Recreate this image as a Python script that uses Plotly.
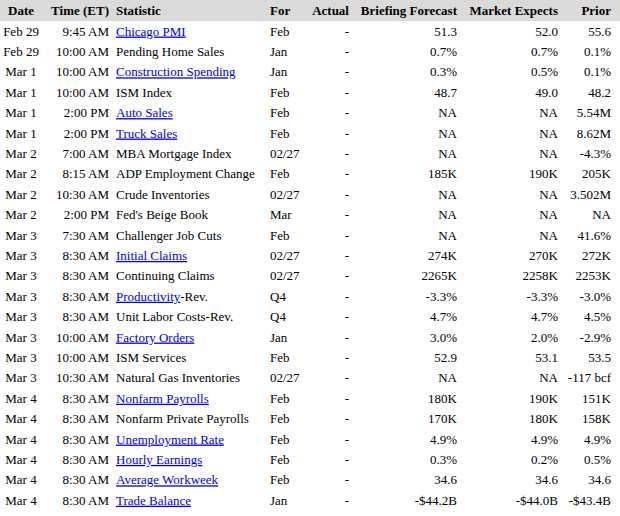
import plotly.graph_objects as go

# ---------- data ----------
dates = ["Feb 29", "Feb 29", "Mar 1", "Mar 1", "Mar 1", "Mar 1", "Mar 2", "Mar 2",
         "Mar 2", "Mar 2", "Mar 3", "Mar 3", "Mar 3", "Mar 3", "Mar 3", "Mar 3",
         "Mar 3", "Mar 3", "Mar 4", "Mar 4", "Mar 4", "Mar 4", "Mar 4", "Mar 4"]
times = ["9:45 AM", "10:00 AM", "10:00 AM", "10:00 AM", "2:00 PM", "2:00 PM", "7:00 AM", "8:15 AM",
         "10:30 AM", "2:00 PM", "7:30 AM", "8:30 AM", "8:30 AM", "8:30 AM", "8:30 AM", "10:00 AM",
         "10:00 AM", "10:30 AM", "8:30 AM", "8:30 AM", "8:30 AM", "8:30 AM", "8:30 AM", "8:30 AM"]
statistics = ["Chicago PMI", "Pending Home Sales", "Construction Spending", "ISM Index",
              "Auto Sales", "Truck Sales", "MBA Mortgage Index", "ADP Employment Change",
              "Crude Inventories", "Fed's Beige Book", "Challenger Job Cuts", "Initial Claims",
              "Continuing Claims", "Productivity", "Unit Labor Costs-Rev.", "Factory Orders",
              "ISM Services", "Natural Gas Inventories", "Nonfarm Payrolls", "Nonfarm Private Payrolls",
              "Unemployment Rate", "Hourly Earnings", "Average Workweek", "Trade Balance"]
stat_suffix = [""] * 13 + ["-Rev."] + [""] * 10
linked = [1, 0, 1, 0, 1, 1, 0, 0, 0, 0, 0, 1, 0, 1, 0, 1, 0, 0, 1, 0, 1, 1, 1, 1]
periods = ["Feb", "Jan", "Jan", "Feb", "Feb", "Feb", "02/27", "Feb",
           "02/27", "Mar", "Feb", "02/27", "02/27", "Q4", "Q4", "Jan",
           "Feb", "02/27", "Feb", "Feb", "Feb", "Feb", "Feb", "Jan"]
actual = ["-"] * 24
briefing = ["51.3", "0.7%", "0.3%", "48.7", "NA", "NA", "NA", "185K",
            "NA", "NA", "NA", "274K", "2265K", "-3.3%", "4.7%", "3.0%",
            "52.9", "NA", "180K", "170K", "4.9%", "0.3%", "34.6", "-$44.2B"]
market = ["52.0", "0.7%", "0.5%", "49.0", "NA", "NA", "NA", "190K",
          "NA", "NA", "NA", "270K", "2258K", "-3.3%", "4.7%", "2.0%",
          "53.1", "NA", "190K", "180K", "4.9%", "0.2%", "34.6", "-$44.0B"]
prior = ["55.6", "0.1%", "0.1%", "48.2", "5.54M", "8.62M", "-4.3%", "205K",
         "3.502M", "NA", "41.6%", "272K", "2253K", "-3.0%", "4.5%", "-2.9%",
         "53.5", "-117 bcf", "151K", "158K", "4.9%", "0.5%", "34.6", "-$43.4B"]
headers = ["Date", "Time (ET)", "Statistic", "For", "Actual",
           "Briefing Forecast", "Market Expects", "Prior"]
# ---------------------------

# column anchors (x in px) and text alignment
col_x = [21, 109, 116, 270, 349, 457, 558, 611]
col_pos = ["middle center", "middle left", "middle right", "middle right",
           "middle left", "middle left", "middle left", "middle left"]

stat_cells = []
for name, suf, ln in zip(statistics, stat_suffix, linked):
    if ln:
        stat_cells.append(f"<span style='color:#0000ee;text-decoration:underline'>{name}</span>{suf}")
    else:
        stat_cells.append(name + suf)

columns = [dates, times, stat_cells, periods, actual, briefing, market, prior]
rows = list(range(len(dates)))
font = "Liberation Serif, Times New Roman, serif"

ROW_PX = 20.4     # row pitch
FIRST_PX = 32.3   # y of the first data row
H = 516
y_top = -FIRST_PX / ROW_PX
y_bot = (H - FIRST_PX) / ROW_PX
header_bottom = (21 - FIRST_PX) / ROW_PX

fig = go.Figure()

# header
fig.add_trace(go.Scatter(
    x=col_x, y=[-1.02] * len(headers), text=headers,
    mode="text", textposition=col_pos,
    textfont=dict(family=font, size=13, color="black", weight="bold"),
    hoverinfo="skip", cliponaxis=False, showlegend=False,
))

for cx, pos, vals in zip(col_x, col_pos, columns):
    fig.add_trace(go.Scatter(
        x=[cx] * len(vals), y=rows, text=vals,
        mode="text", textposition=pos,
        textfont=dict(family=font, size=13, color="black"),
        hoverinfo="skip", cliponaxis=False, showlegend=False,
    ))

fig.add_shape(type="rect", xref="x", yref="y", x0=0, x1=620, y0=y_top - 0.2, y1=header_bottom,
              fillcolor="#dadada", line_width=0, layer="below")

fig.update_layout(
    width=620, height=H,
    margin=dict(l=0, r=0, t=0, b=0),
    paper_bgcolor="white", plot_bgcolor="white",
    xaxis=dict(range=[0, 620], visible=False, fixedrange=True),
    yaxis=dict(range=[y_bot, y_top], visible=False, fixedrange=True),
)

fig.write_html("out.html", config={"displayModeBar": False, "staticPlot": True},
               post_script="document.body.style.margin='0';")
